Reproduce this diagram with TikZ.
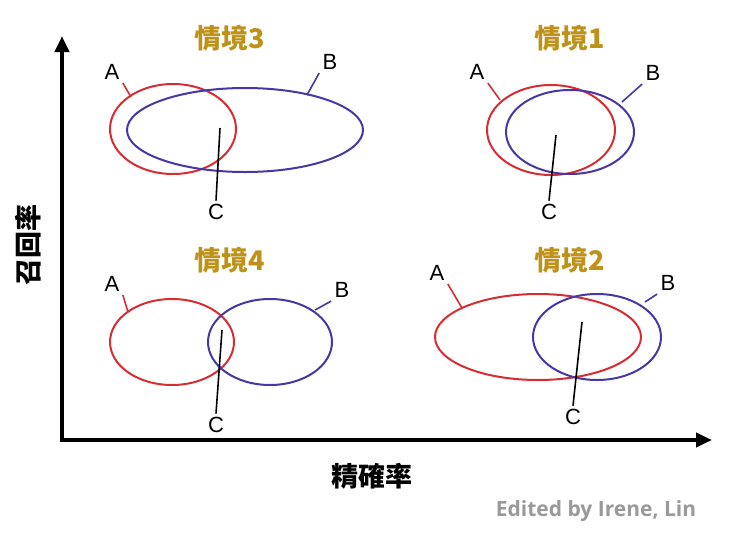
\documentclass[tikz,border=0pt]{standalone}
\usepackage{fontspec}
\setmainfont{Liberation Sans}
\newfontfamily\cjk{Noto Sans CJK TC}
\newfontfamily\opens{Open Sans}
\usetikzlibrary{arrows.meta}
\definecolor{cred}{RGB}{215,45,50}
\definecolor{cblue}{RGB}{70,55,165}
\definecolor{gold}{RGB}{190,145,25}
\begin{document}
\begin{tikzpicture}[x=1pt,y=-1pt,
  ered/.style={draw=cred,line width=2pt},
  eblue/.style={draw=cblue,line width=2pt},
  lbl/.style={font=\fontsize{22}{22}\selectfont},
  ttl/.style={font=\cjk\bfseries\fontsize{27}{27}\selectfont,text=gold},
  lk/.style={line width=1.6pt}]
\useasboundingbox (0,0) rectangle (740,539);
\draw[line width=4.5pt,-{Triangle[length=16pt,width=14pt]}] (62,442) -- (62,36);
\draw[line width=4.5pt,-{Triangle[length=16pt,width=14pt]}] (60,440) -- (712,440);
\node[font=\cjk\bfseries\fontsize{27}{27}\selectfont,rotate=90] (yl) at (28,245) {召回率};
\node[font=\cjk\bfseries\fontsize{27}{27}\selectfont] (xl) at (372,476) {精確率};
\node[font=\opens\bfseries\fontsize{21}{21}\selectfont,text=black!40] (ed) at (596,511) {Edited by Irene, Lin};
% 3
\node[ttl] (t3) at (230,38) {情境3};
\draw[ered] (173,129) ellipse [x radius=63,y radius=45];
\draw[eblue] (245,130) ellipse [x radius=118,y radius=42];
\node[lbl] (a3) at (112,72) {A}; \node[lbl] (b3) at (330,62) {B}; \node[lbl] (c3) at (216,212) {C};
\coordinate (a3e) at (131,97); \coordinate (b3e) at (307,95); \coordinate (c3e) at (220,128);
\draw[lk,cred] (a3.south east) -- (a3e); \draw[lk,cblue] (b3.south west) -- (b3e); \draw[lk] (c3.north) -- (c3e);
% 1
\node[ttl] (t1) at (570,38) {情境1};
\draw[ered] (551,130) ellipse [x radius=64,y radius=45];
\draw[eblue] (570,132) ellipse [x radius=64,y radius=42];
\node[lbl] (a1) at (477,72) {A}; \node[lbl] (b1) at (653,73) {B}; \node[lbl] (c1) at (549,212) {C};
\coordinate (a1e) at (500,100); \coordinate (b1e) at (622,102); \coordinate (c1e) at (556,135);
\draw[lk,cred] (a1.south east) -- (a1e); \draw[lk,cblue] (b1.south west) -- (b1e); \draw[lk] (c1.north) -- (c1e);
% 4
\node[ttl] (t4) at (230,260) {情境4};
\draw[ered] (172,342) ellipse [x radius=62,y radius=43];
\draw[eblue] (270,342) ellipse [x radius=62,y radius=43];
\node[lbl] (a4) at (112,284) {A}; \node[lbl] (b4) at (342,290) {B}; \node[lbl] (c4) at (216,425) {C};
\coordinate (a4e) at (128,312); \coordinate (b4e) at (315,310); \coordinate (c4e) at (222,330);
\draw[lk,cred] (a4.south east) -- (a4e); \draw[lk,cblue] (b4.south west) -- (b4e); \draw[lk] (c4.north) -- (c4e);
% 2
\node[ttl] (t2) at (570,260) {情境2};
\draw[ered] (538,337) ellipse [x radius=103,y radius=43];
\draw[eblue] (597,337) ellipse [x radius=64,y radius=43];
\node[lbl] (a2) at (437,273) {A}; \node[lbl] (b2) at (668,283) {B}; \node[lbl] (c2) at (573,417) {C};
\coordinate (a2e) at (462,308); \coordinate (b2e) at (645,302); \coordinate (c2e) at (582,322);
\draw[lk,cred] (a2.south east) -- (a2e); \draw[lk,cblue] (b2.south west) -- (b2e); \draw[lk] (c2.north) -- (c2e);
\end{tikzpicture}
\end{document}
